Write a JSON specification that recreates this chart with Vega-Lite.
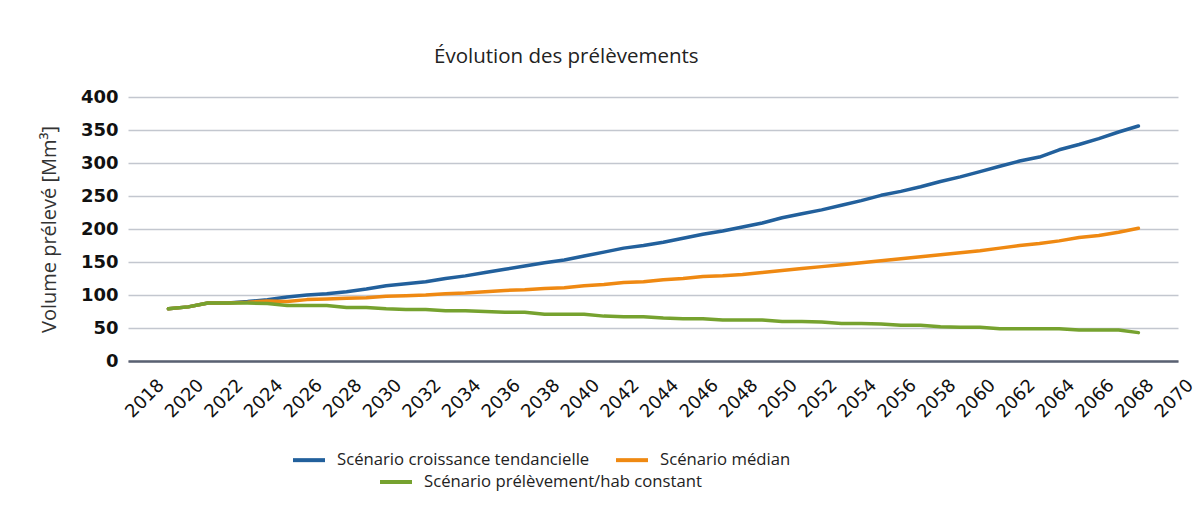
{
  "$schema": "https://vega.github.io/schema/vega-lite/v6.json",
  "width": 1050,
  "height": 264,
  "autosize": {"type": "none"},
  "padding": {"left": 128, "top": 97, "right": 22, "bottom": 164},
  "background": "white",
  "title": {"text": "Évolution des prélèvements", "anchor": "start", "frame": "group", "dx": 306, "offset": 21, "fontSize": 20.5, "fontWeight": "normal", "font": "Open Sans", "color": "#222222"},
  "config": {"view": {"stroke": null}},
  "datasets": {
    "prelevements": [
      {"annee": 2019, "tendanciel": 79, "median": 79, "constant": 79},
      {"annee": 2020, "tendanciel": 82, "median": 82, "constant": 82},
      {"annee": 2021, "tendanciel": 88, "median": 88, "constant": 88},
      {"annee": 2022, "tendanciel": 88, "median": 88, "constant": 88},
      {"annee": 2023, "tendanciel": 90, "median": 89, "constant": 88},
      {"annee": 2024, "tendanciel": 93, "median": 91, "constant": 87},
      {"annee": 2025, "tendanciel": 97, "median": 90, "constant": 84},
      {"annee": 2026, "tendanciel": 100, "median": 93, "constant": 84},
      {"annee": 2027, "tendanciel": 102, "median": 94, "constant": 84},
      {"annee": 2028, "tendanciel": 105, "median": 95, "constant": 81},
      {"annee": 2029, "tendanciel": 109, "median": 96, "constant": 81},
      {"annee": 2030, "tendanciel": 114, "median": 98, "constant": 79},
      {"annee": 2031, "tendanciel": 117, "median": 99, "constant": 78},
      {"annee": 2032, "tendanciel": 120, "median": 100, "constant": 78},
      {"annee": 2033, "tendanciel": 125, "median": 102, "constant": 76},
      {"annee": 2034, "tendanciel": 129, "median": 103, "constant": 76},
      {"annee": 2035, "tendanciel": 134, "median": 105, "constant": 75},
      {"annee": 2036, "tendanciel": 139, "median": 107, "constant": 74},
      {"annee": 2037, "tendanciel": 144, "median": 108, "constant": 74},
      {"annee": 2038, "tendanciel": 149, "median": 110, "constant": 71},
      {"annee": 2039, "tendanciel": 153, "median": 111, "constant": 71},
      {"annee": 2040, "tendanciel": 159, "median": 114, "constant": 71},
      {"annee": 2041, "tendanciel": 165, "median": 116, "constant": 68},
      {"annee": 2042, "tendanciel": 171, "median": 119, "constant": 67},
      {"annee": 2043, "tendanciel": 175, "median": 120, "constant": 67},
      {"annee": 2044, "tendanciel": 180, "median": 123, "constant": 65},
      {"annee": 2045, "tendanciel": 186, "median": 125, "constant": 64},
      {"annee": 2046, "tendanciel": 192, "median": 128, "constant": 64},
      {"annee": 2047, "tendanciel": 197, "median": 129, "constant": 62},
      {"annee": 2048, "tendanciel": 203, "median": 131, "constant": 62},
      {"annee": 2049, "tendanciel": 209, "median": 134, "constant": 62},
      {"annee": 2050, "tendanciel": 217, "median": 137, "constant": 60},
      {"annee": 2051, "tendanciel": 223, "median": 140, "constant": 60},
      {"annee": 2052, "tendanciel": 229, "median": 143, "constant": 59},
      {"annee": 2053, "tendanciel": 236, "median": 146, "constant": 57},
      {"annee": 2054, "tendanciel": 243, "median": 149, "constant": 57},
      {"annee": 2055, "tendanciel": 251, "median": 152, "constant": 56},
      {"annee": 2056, "tendanciel": 257, "median": 155, "constant": 54},
      {"annee": 2057, "tendanciel": 264, "median": 158, "constant": 54},
      {"annee": 2058, "tendanciel": 272, "median": 161, "constant": 52},
      {"annee": 2059, "tendanciel": 279, "median": 164, "constant": 51},
      {"annee": 2060, "tendanciel": 287, "median": 167, "constant": 51},
      {"annee": 2061, "tendanciel": 295, "median": 171, "constant": 49},
      {"annee": 2062, "tendanciel": 303, "median": 175, "constant": 49},
      {"annee": 2063, "tendanciel": 309, "median": 178, "constant": 49},
      {"annee": 2064, "tendanciel": 320, "median": 182, "constant": 49},
      {"annee": 2065, "tendanciel": 328, "median": 187, "constant": 47},
      {"annee": 2066, "tendanciel": 337, "median": 190, "constant": 47},
      {"annee": 2067, "tendanciel": 347, "median": 195, "constant": 47},
      {"annee": 2068, "tendanciel": 356, "median": 201, "constant": 43}
    ]
  },
  "data": {"name": "prelevements"},
  "transform": [{"fold": ["tendanciel", "median", "constant"], "as": ["serie", "valeur"]}],
  "encoding": {
    "x": {
      "field": "annee", "type": "quantitative",
      "scale": {"domain": [2016.96, 2070], "nice": false, "zero": false},
      "axis": {
        "values": [2018, 2020, 2022, 2024, 2026, 2028, 2030, 2032, 2034, 2036, 2038, 2040, 2042, 2044, 2046, 2048, 2050, 2052, 2054, 2056, 2058, 2060, 2062, 2064, 2066, 2068, 2070],
        "format": "d", "title": null, "labelAngle": -45, "grid": false, "ticks": false,
        "domainColor": "#5a6172", "domainWidth": 2.5,
        "labelFont": "DejaVu Sans", "labelFontSize": 18, "labelColor": "#111111",
        "labelPadding": 15, "labelOffset": 6, "labelOverlap": false, "labelFlush": false
      }
    },
    "y": {
      "field": "valeur", "type": "quantitative",
      "scale": {"domain": [0, 400], "nice": false},
      "axis": {
        "values": [0, 50, 100, 150, 200, 250, 300, 350, 400],
        "grid": true, "gridColor": "#c3c7cf", "gridWidth": 1.5,
        "domain": false, "ticks": false,
        "labelFont": "DejaVu Sans", "labelFontSize": 18, "labelFontWeight": "bold", "labelColor": "#111111", "labelPadding": 10,
        "title": "Volume prélevé [Mm³]", "titleFont": "Open Sans", "titleFontSize": 20, "titleFontWeight": "normal", "titleColor": "#333333", "titlePadding": 21
      }
    }
  },
  "layer": [
    {
      "transform": [{"filter": "datum.serie !== 'constant'"}],
      "mark": {"type": "line", "strokeWidth": 3.5, "strokeCap": "round", "strokeJoin": "round"},
      "encoding": {
        "color": {
          "field": "serie", "type": "nominal",
          "scale": {"domain": ["tendanciel", "median"], "range": ["#22609c", "#ef8912"]},
          "legend": {
            "orient": "none", "legendX": 163, "legendY": 345, "direction": "horizontal", "title": null,
            "symbolType": "stroke", "symbolSize": 1024, "symbolStrokeWidth": 4,
            "labelFont": "Open Sans", "labelFontSize": 16.7, "labelColor": "#222222", "labelOffset": 10,
            "columnPadding": 18, "padding": 0, "labelLimit": 400,
            "labelExpr": "datum.label === 'tendanciel' ? 'Scénario croissance tendancielle' : 'Scénario médian'"
          }
        }
      }
    },
    {
      "transform": [{"filter": "datum.serie === 'constant'"}],
      "mark": {"type": "line", "strokeWidth": 3.5, "strokeCap": "round", "strokeJoin": "round"},
      "encoding": {
        "stroke": {
          "field": "serie", "type": "nominal",
          "scale": {"domain": ["constant"], "range": ["#76a22f"]},
          "legend": {
            "orient": "none", "legendX": 250, "legendY": 367, "direction": "horizontal", "title": null,
            "symbolType": "stroke", "symbolSize": 1024, "symbolStrokeWidth": 4,
            "labelFont": "Open Sans", "labelFontSize": 16.7, "labelColor": "#222222", "labelOffset": 10,
            "padding": 0, "labelLimit": 400,
            "labelExpr": "'Scénario prélèvement/hab constant'"
          }
        }
      }
    }
  ]
}
